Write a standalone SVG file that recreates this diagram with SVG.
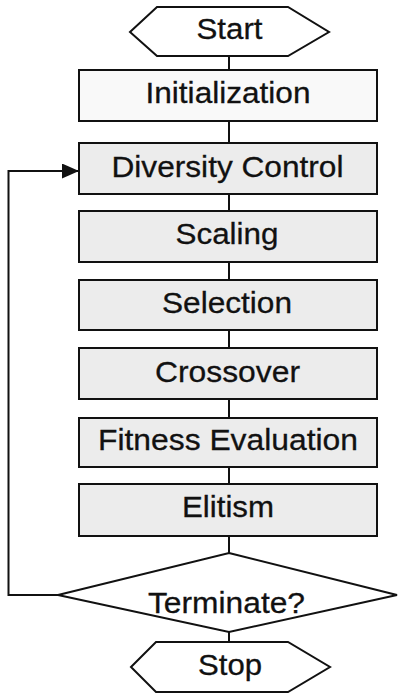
<svg xmlns="http://www.w3.org/2000/svg" width="398" height="696" viewBox="0 0 398 696">
<style>
.s{fill:#fff;stroke:#111;stroke-width:2}
.b{fill:#ececec;stroke:#111;stroke-width:2}
.w{fill:#f9f9f9;stroke:#111;stroke-width:2}
.l{fill:none;stroke:#111;stroke-width:2}
text{font-family:"Liberation Sans",Arial,sans-serif;font-size:30px;fill:#111;stroke:#111;stroke-width:0.3;text-anchor:middle}
</style>
<defs>
<marker id="ah" markerWidth="17" markerHeight="15" refX="17" refY="7.5" orient="auto" markerUnits="userSpaceOnUse">
<path d="M0,0 L17,7.5 L0,15 Z" fill="#111"/>
</marker>
</defs>
<rect width="398" height="696" fill="#fff"/>
<g id="connectors">
<line class="l" x1="229" y1="56" x2="229" y2="70"/>
<line class="l" x1="229" y1="121" x2="229" y2="143"/>
<line class="l" x1="229" y1="194" x2="229" y2="211"/>
<line class="l" x1="229" y1="262" x2="229" y2="280"/>
<line class="l" x1="229" y1="330" x2="229" y2="348"/>
<line class="l" x1="229" y1="399" x2="229" y2="418"/>
<line class="l" x1="229" y1="467" x2="229" y2="484"/>
<line class="l" x1="229" y1="536" x2="229" y2="553"/>
<line class="l" x1="229" y1="632" x2="229" y2="642"/>
<polyline class="l" points="58,595 8.5,595 8.5,171 79,171" marker-end="url(#ah)"/>
</g>
<g id="start">
<polygon class="s" points="130,32 157,7 288,7 329,32 288,56 157,56"/>
<text x="229.5" y="39" textLength="66" lengthAdjust="spacingAndGlyphs">Start</text>
</g>
<g id="initialization">
<rect class="w" x="79" y="70" width="298" height="51"/>
<text x="228" y="102.5" textLength="165" lengthAdjust="spacingAndGlyphs">Initialization</text>
</g>
<g id="diversity">
<rect class="b" x="79" y="143" width="298" height="51"/>
<text x="227.5" y="177" textLength="232" lengthAdjust="spacingAndGlyphs">Diversity Control</text>
</g>
<g id="scaling">
<rect class="b" x="79" y="211" width="298" height="51"/>
<text x="227" y="244" textLength="103" lengthAdjust="spacingAndGlyphs">Scaling</text>
</g>
<g id="selection">
<rect class="b" x="79" y="280" width="298" height="50"/>
<text x="227" y="313" textLength="130" lengthAdjust="spacingAndGlyphs">Selection</text>
</g>
<g id="crossover">
<rect class="b" x="79" y="348" width="298" height="51"/>
<text x="227.5" y="382" textLength="145" lengthAdjust="spacingAndGlyphs">Crossover</text>
</g>
<g id="fitness">
<rect class="b" x="79" y="418" width="298" height="49"/>
<text x="228" y="450" textLength="260" lengthAdjust="spacingAndGlyphs">Fitness Evaluation</text>
</g>
<g id="elitism">
<rect class="b" x="79" y="484" width="298" height="52"/>
<text x="228" y="517" textLength="92" lengthAdjust="spacingAndGlyphs">Elitism</text>
</g>
<g id="terminate">
<polygon class="s" points="229,553 397,595 229,632 58,595"/>
<text x="226.5" y="613" textLength="157" lengthAdjust="spacingAndGlyphs">Terminate?</text>
</g>
<g id="stop">
<polygon class="s" points="131,667 156,642 288,642 330,667 288,692 156,692"/>
<text x="230" y="675" textLength="64" lengthAdjust="spacingAndGlyphs">Stop</text>
</g>
</svg>
